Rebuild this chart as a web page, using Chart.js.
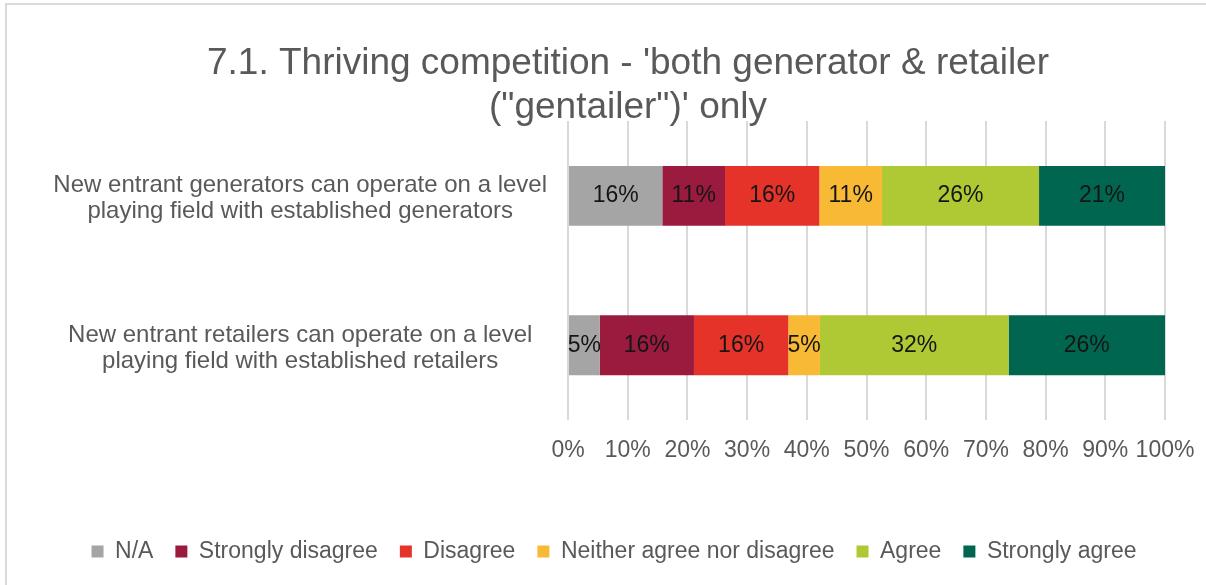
<!DOCTYPE html>
<html>
<head>
<meta charset="utf-8">
<script src="https://cdn.jsdelivr.net/npm/chart.js@4"></script>
<style>
  html, body { margin: 0; padding: 0; overflow: hidden; background: #fff; }
  #frame {
    position: absolute; left: 5px; top: 3px;
    border-left: 2px solid #d9d9d9; border-top: 2px solid #d9d9d9;
    width: 1242px; height: 580px;
  }
</style>
</head>
<body>
<div id="frame"><canvas id="chart"></canvas></div>
<script>
// Categories and series (percent of respondents)
const categories = [
    ['New entrant generators can operate on a level', 'playing field with established generators'],
    ['New entrant retailers can operate on a level', 'playing field with established retailers']
];
const seriesNames = ['N/A', 'Strongly disagree', 'Disagree', 'Neither agree nor disagree', 'Agree', 'Strongly agree'];
const naValues = [15.8, 5.3];
const stronglyDisagreeValues = [10.5, 15.8];
const disagreeValues = [15.8, 15.8];
const neitherValues = [10.5, 5.3];
const agreeValues = [26.3, 31.6];
const stronglyAgreeValues = [21.1, 26.2];
const xTickValues = [0, 10, 20, 30, 40, 50, 60, 70, 80, 90, 100];

const colors = ['#a5a5a5', '#9b1b3f', '#e5332a', '#f8b934', '#afc935', '#00664f'];
const allValues = [naValues, stronglyDisagreeValues, disagreeValues, neitherValues, agreeValues, stronglyAgreeValues];

const FONT = "'Liberation Sans', Arial, sans-serif";

// draws the % label in the middle of each bar segment
const barLabels = {
    id: 'barLabels',
    afterDatasetsDraw(chart) {
        const ctx = chart.ctx;
        ctx.save();
        ctx.font = '23px ' + FONT;
        ctx.fillStyle = '#151515';
        ctx.textAlign = 'center';
        ctx.textBaseline = 'middle';
        chart.data.datasets.forEach((ds, i) => {
            chart.getDatasetMeta(i).data.forEach((bar, j) => {
                const p = bar.getCenterPoint();
                ctx.fillText(Math.round(ds.data[j]) + '%', p.x, p.y);
            });
        });
        ctx.restore();
    }
};

// centre title and legend the way the original (cropped) frame had them
const boxShift = {
    id: 'boxShift',
    afterLayout(chart) {
        chart.titleBlock.left = 0;
        chart.titleBlock.right = 1242;
        chart.legend.left = 0;
        chart.legend.right = 1214;
    }
};

new Chart(document.getElementById('chart'), {
    type: 'bar',
    data: {
        labels: categories,
        datasets: seriesNames.map((name, i) => ({
            label: name,
            data: allValues[i],
            backgroundColor: colors[i],
            borderWidth: 0,
            barPercentage: 0.4,
            categoryPercentage: 1
        }))
    },
    options: {
        indexAxis: 'y',
        responsive: true,
        maintainAspectRatio: false,
        animation: false,
        layout: { padding: { left: 0, right: 84, top: 0, bottom: 12 } },
        scales: {
            x: {
                stacked: true,
                min: 0,
                max: 100,
                afterBuildTicks(scale) {
                    scale.ticks = xTickValues.map(v => ({ value: v }));
                },
                afterFit(scale) { scale.height = 98; },
                grid: { color: '#d9d9d9', lineWidth: 2, drawTicks: false },
                border: { display: false },
                ticks: {
                    padding: 17,
                    maxRotation: 0,
                    minRotation: 0,
                    autoSkip: false,
                    color: '#595959',
                    font: { family: FONT, size: 23 },
                    callback: v => v + '%'
                }
            },
            y: {
                stacked: true,
                afterFit(scale) { scale.width = 561; },
                grid: { display: false, drawTicks: false },
                border: { display: false },
                ticks: {
                    padding: 21,
                    labelOffset: 3,
                    crossAlign: 'center',
                    color: '#595959',
                    font: { family: FONT, size: 24, lineHeight: 1.08 }
                }
            }
        },
        plugins: {
            title: {
                display: true,
                text: ["7.1. Thriving competition - 'both generator & retailer", "(\"gentailer\")' only"],
                color: '#595959',
                font: { family: FONT, size: 37, weight: 'normal', lineHeight: 1.19 },
                padding: { top: 37, bottom: -9 }
            },
            legend: {
                position: 'bottom',
                labels: {
                    color: '#595959',
                    font: { family: FONT, size: 23 },
                    boxWidth: 12,
                    boxHeight: 12,
                    padding: 22
                }
            },
            tooltip: { enabled: false }
        }
    },
    plugins: [barLabels, boxShift]
});
</script>
</body>
</html>
